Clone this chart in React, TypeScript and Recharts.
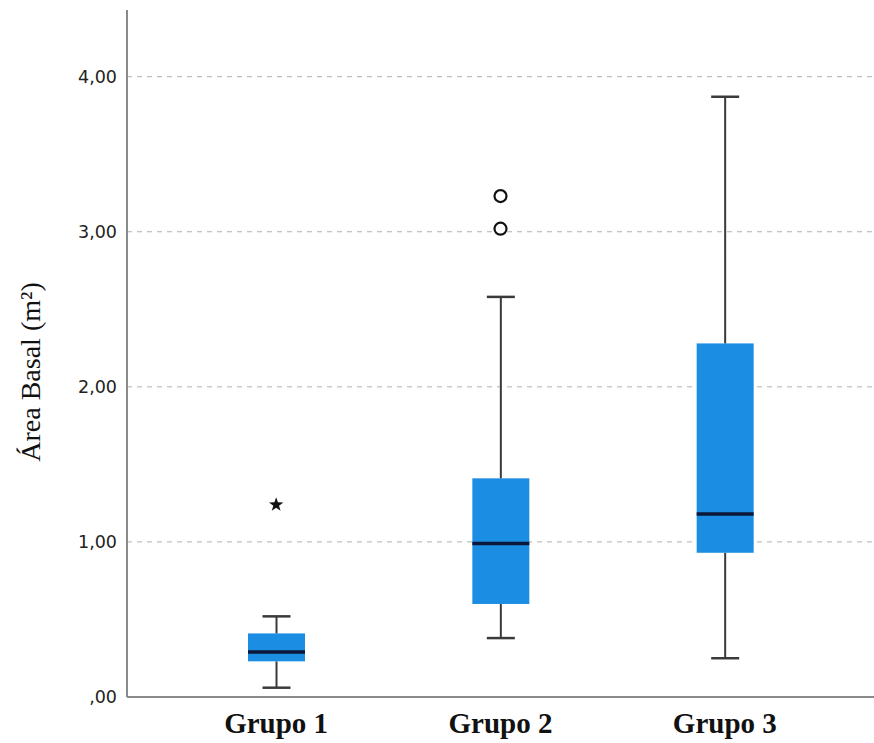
import React from 'react';
import { ComposedChart, Bar, Line, XAxis, YAxis, CartesianGrid } from 'recharts';

const categories = ['Grupo 1', 'Grupo 2', 'Grupo 3'];
const minValues = [0.06, 0.38, 0.25];
const q1Values = [0.23, 0.6, 0.93];
const medianValues = [0.29, 0.99, 1.18];
const q3Values = [0.41, 1.41, 2.28];
const maxValues = [0.52, 2.58, 3.87];
const outlierHigh: (number | null)[] = [null, 3.23, null];
const outlierLow: (number | null)[] = [null, 3.02, null];
const extremeValues: (number | null)[] = [1.24, null, null];
const yTicks = [0, 1, 2, 3, 4];

const data = categories.map((name, i) => ({
  name,
  base: minValues[i],
  lowWhisker: q1Values[i] - minValues[i],
  lowBox: medianValues[i] - q1Values[i],
  highBox: q3Values[i] - medianValues[i],
  highWhisker: maxValues[i] - q3Values[i],
  outHigh: outlierHigh[i],
  outLow: outlierLow[i],
  extreme: extremeValues[i],
}));

const BOX = '#1b8de2';
const WHISK = '#3a3a3a';
const CAP = 28;

const Empty = () => <g />;

const LowWhisker = (p: any) => {
  const cx = p.x + p.width / 2;
  return (
    <g>
      <line x1={cx} x2={cx} y1={p.y} y2={p.y + p.height} stroke={WHISK} strokeWidth={2} />
      <line x1={cx - CAP / 2} x2={cx + CAP / 2} y1={p.y + p.height} y2={p.y + p.height} stroke={WHISK} strokeWidth={2.5} />
    </g>
  );
};

const HighWhisker = (p: any) => {
  const cx = p.x + p.width / 2;
  return (
    <g>
      <line x1={cx} x2={cx} y1={p.y} y2={p.y + p.height} stroke={WHISK} strokeWidth={2} />
      <line x1={cx - CAP / 2} x2={cx + CAP / 2} y1={p.y} y2={p.y} stroke={WHISK} strokeWidth={2.5} />
    </g>
  );
};

const LowBox = (p: any) => (
  <rect x={p.x} y={p.y} width={p.width} height={p.height} fill={BOX} />
);

const HighBox = (p: any) => (
  <g>
    <rect x={p.x} y={p.y} width={p.width} height={p.height} fill={BOX} />
    <line x1={p.x} x2={p.x + p.width} y1={p.y + p.height} y2={p.y + p.height} stroke="#0b1838" strokeWidth={3.5} />
  </g>
);

const CircleDot = (p: any) => {
  if (p.value == null || p.cy == null || isNaN(p.cy)) return <g key={p.key} />;
  return <circle key={p.key} cx={p.cx} cy={p.cy} r={6} fill="#fff" stroke="#111" strokeWidth={2.2} />;
};

const StarDot = (p: any) => {
  if (p.value == null || p.cy == null || isNaN(p.cy)) return <g key={p.key} />;
  const pts: string[] = [];
  for (let k = 0; k < 10; k++) {
    const r = k % 2 === 0 ? 7.5 : 3;
    const a = -Math.PI / 2 + (k * Math.PI) / 5;
    pts.push(`${p.cx + r * Math.cos(a)},${p.cy + r * Math.sin(a)}`);
  }
  return <polygon key={p.key} points={pts.join(' ')} fill="#111" />;
};

const fmt = (v: number) => (v === 0 ? ',00' : v.toFixed(2).replace('.', ','));

export default function App() {
  return (
    <div style={{ position: 'absolute', left: 0, top: 0, background: '#fff' }}>
      <ComposedChart width={874} height={743} data={data} margin={{ top: 10, right: 0, left: 0, bottom: 0 }}>
        <CartesianGrid vertical={false} horizontalValues={[1, 2, 3, 4]} stroke="#b0b0b0" strokeDasharray="5 5" />
        <XAxis
          dataKey="name"
          height={46}
          padding={{ left: 37, right: 37 }}
          axisLine={{ stroke: '#8a8a8a', strokeWidth: 2 }}
          tickLine={false}
          tickSize={0}
          tickMargin={15}
          tick={{ fill: '#111', fontSize: 29, fontWeight: 'bold', fontFamily: '"Liberation Serif", serif' }}
        />
        <YAxis
          width={127}
          domain={[0, 4.43]}
          allowDataOverflow
          ticks={yTicks}
          tickFormatter={fmt}
          axisLine={{ stroke: '#8a8a8a', strokeWidth: 2 }}
          tickLine={false}
          tickSize={5}
          tickMargin={5}
          tick={{ fill: '#222', fontSize: 17.5, fontFamily: '"DejaVu Sans", sans-serif' }}
          label={{
            content: () => (
              <text
                x={40}
                y={372}
                transform="rotate(-90 40 372)"
                textAnchor="middle"
                fontFamily='"Liberation Serif", serif'
                fontSize={28}
                fill="#111"
              >
                Área Basal (m²)
              </text>
            ),
          }}
        />
        <Bar dataKey="base" stackId="b" barSize={57} shape={Empty} isAnimationActive={false} />
        <Bar dataKey="lowWhisker" stackId="b" barSize={57} shape={LowWhisker} isAnimationActive={false} />
        <Bar dataKey="lowBox" stackId="b" barSize={57} shape={LowBox} isAnimationActive={false} />
        <Bar dataKey="highBox" stackId="b" barSize={57} shape={HighBox} isAnimationActive={false} />
        <Bar dataKey="highWhisker" stackId="b" barSize={57} shape={HighWhisker} isAnimationActive={false} />
        <Line dataKey="outHigh" stroke="none" dot={CircleDot} activeDot={false} isAnimationActive={false} />
        <Line dataKey="outLow" stroke="none" dot={CircleDot} activeDot={false} isAnimationActive={false} />
        <Line dataKey="extreme" stroke="none" dot={StarDot} activeDot={false} isAnimationActive={false} />
      </ComposedChart>
    </div>
  );
}
